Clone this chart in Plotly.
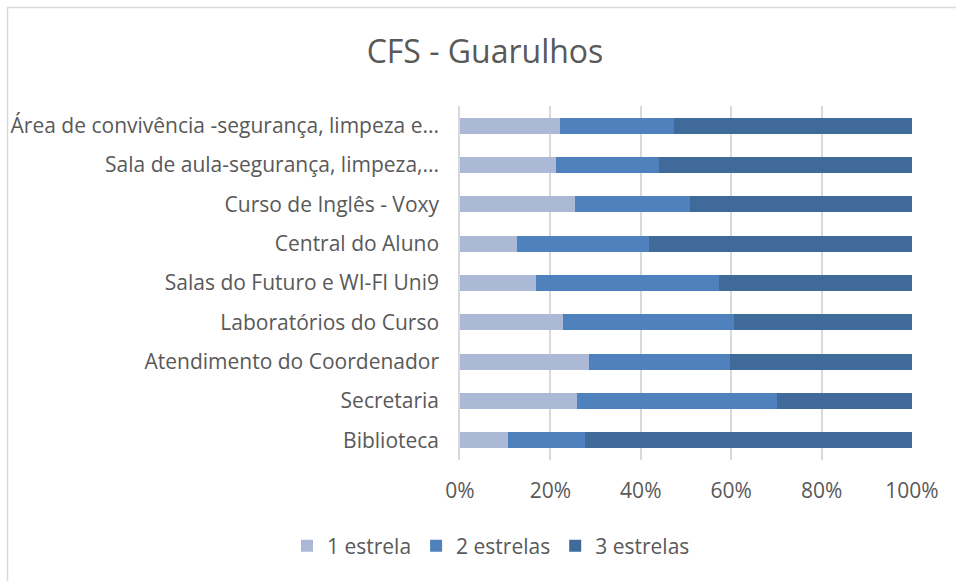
import plotly.graph_objects as go

categories = [
    "Biblioteca",
    "Secretaria",
    "Atendimento do Coordenador",
    "Laboratórios do Curso",
    "Salas do Futuro e WI-FI Uni9",
    "Central do Aluno",
    "Curso de Inglês - Voxy",
    "Sala de aula-segurança, limpeza,...",
    "Área de convivência -segurança, limpeza e...",
]
uma_estrela = [10.6, 25.8, 28.6, 22.7, 16.8, 12.5, 25.4, 21.2, 22.1]
duas_estrelas = [17.1, 44.4, 31.1, 37.9, 40.5, 29.4, 25.4, 22.9, 25.3]
tres_estrelas = [72.3, 29.8, 40.3, 39.4, 42.7, 58.1, 49.2, 55.9, 52.6]
series_names = ["1 estrela", "2 estrelas", "3 estrelas"]
colors = ["#ABB9D6", "#4F81BD", "#406A9A"]
x_ticks = [0, 20, 40, 60, 80, 100]
x_tick_labels = ["0%", "20%", "40%", "60%", "80%", "100%"]

FONT = "Open Sans"
TXT = "#595959"
FS = 21

fig = go.Figure()
for name, vals, col in zip(series_names, [uma_estrela, duas_estrelas, tres_estrelas], colors):
    fig.add_trace(go.Bar(
        y=categories, x=vals, name=name, orientation="h",
        marker=dict(color=col, line=dict(width=0)),
        width=0.41,
    ))

W, H = 956, 581
L, R, T, B = 460, 44, 106, 121
PW, PH = W - L - R, H - T - B

fig.update_layout(
    width=W, height=H,
    barmode="stack",
    paper_bgcolor="white", plot_bgcolor="white",
    margin=dict(l=L, r=R, t=T, b=B, pad=0),
    font=dict(family=FONT, color=TXT, size=FS),
    title=dict(text="CFS - Guarulhos", x=485 / W, xanchor="center",
               y=1 - 52 / H, yanchor="middle",
               font=dict(family=FONT, size=32, color=TXT)),
    showlegend=True,
    legend=dict(orientation="h", x=(491 - L) / PW, xanchor="center",
                y=(460 - 546) / PH, yanchor="middle",
                font=dict(family=FONT, size=FS, color=TXT),
                traceorder="normal", itemwidth=30),
    xaxis=dict(range=[0, 100], tickvals=x_ticks, ticktext=x_tick_labels,
               showgrid=True, gridcolor="#D9D9D9", gridwidth=1.5,
               zeroline=False, showline=False, ticks="",
               ticklabelstandoff=16,
               tickfont=dict(family=FONT, size=FS, color=TXT),
               fixedrange=True),
    yaxis=dict(categoryorder="array", categoryarray=categories,
               showgrid=False, zeroline=False,
               showline=True, linecolor="#D9D9D9", linewidth=1.5,
               ticks="", ticklabelstandoff=15,
               tickfont=dict(family=FONT, size=FS, color=TXT),
               fixedrange=True),
    bargap=0.59,
)

# chart frame (light grey border, top and left visible)
fig.add_shape(type="line", xref="paper", yref="paper",
              x0=(7 - L) / PW, x1=(W + 5 - L) / PW,
              y0=1 + (T - 7.5) / PH, y1=1 + (T - 7.5) / PH,
              line=dict(color="#D9D9D9", width=1.5))
fig.add_shape(type="line", xref="paper", yref="paper",
              x0=(7.5 - L) / PW, x1=(7.5 - L) / PW,
              y0=1 + (T - 7) / PH, y1=-(B + 5) / PH,
              line=dict(color="#D9D9D9", width=1.5))

fig.write_html("out.html",
               config={"displayModeBar": False},
               post_script="document.body.style.margin='0';document.body.style.overflow='hidden';")
